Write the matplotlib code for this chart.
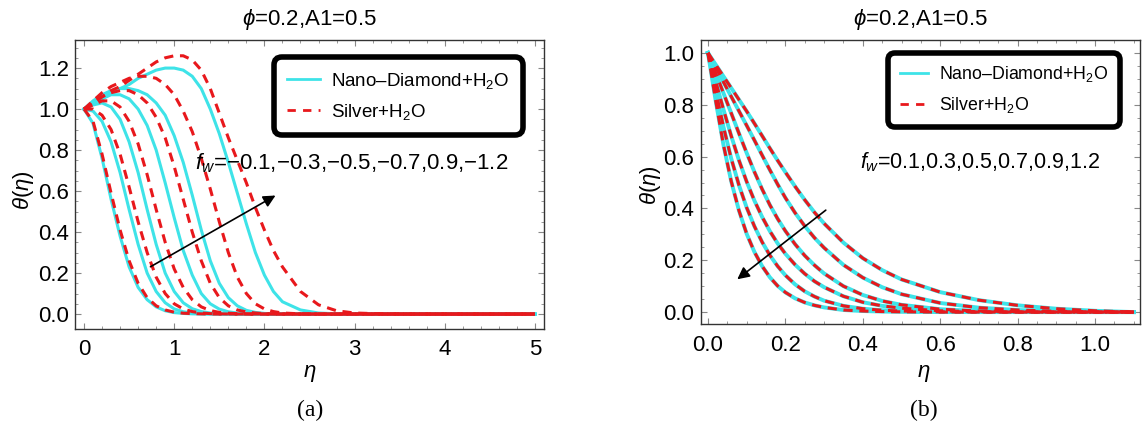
import matplotlib
matplotlib.use('Agg')
from matplotlib import pyplot as plt
from matplotlib.lines import Line2D

plt.rcParams['font.family'] = ['Liberation Sans', 'DejaVu Sans']
plt.rcParams['mathtext.fontset'] = 'custom'
plt.rcParams['mathtext.rm'] = 'Liberation Sans'
plt.rcParams['mathtext.it'] = 'Liberation Sans:italic'
plt.rcParams['mathtext.fallback'] = 'stixsans'

# ---- data ----
title = r'$\phi$=0.2,A1=0.5'
labels = ['Nano\u2013Diamond+H$_2$O', 'Silver+H$_2$O']
note_a = '$f_w$=\u22120.1,\u22120.3,\u22120.5,\u22120.7,0.9,\u22121.2'
note_b = '$f_w$=0.1,0.3,0.5,0.7,0.9,1.2'

# panel (a): fw = -0.1, -0.3, -0.5, -0.7, -0.9, -1.2
eta_a = [0, 0.1, 0.2, 0.3, 0.4, 0.5, 0.6, 0.7, 0.8, 0.9, 1.0, 1.1, 1.2, 1.3, 1.4, 1.5,
         1.6, 1.7, 1.8, 1.9, 2.0, 2.1, 2.2, 2.4, 2.6, 2.8, 3.0, 3.3, 3.6, 4.0, 5.0]
nd_a = [
    [1.0, 0.93, 0.76, 0.56, 0.38, 0.23, 0.13, 0.07, 0.035, 0.016, 0.007, 0.003, 0.001, 0,
     0, 0, 0, 0, 0, 0, 0, 0, 0, 0, 0, 0, 0, 0, 0, 0, 0],
    [1.0, 0.99, 0.94, 0.84, 0.69, 0.51, 0.34, 0.2, 0.11, 0.055, 0.025, 0.011, 0.005, 0.002,
     0.001, 0, 0, 0, 0, 0, 0, 0, 0, 0, 0, 0, 0, 0, 0, 0, 0],
    [1.0, 1.02, 1.03, 1.01, 0.95, 0.84, 0.69, 0.51, 0.34, 0.2, 0.11, 0.055, 0.026, 0.012,
     0.005, 0.002, 0.001, 0, 0, 0, 0, 0, 0, 0, 0, 0, 0, 0, 0, 0, 0],
    [1.0, 1.03, 1.05, 1.07, 1.07, 1.05, 1.0, 0.92, 0.8, 0.64, 0.47, 0.31, 0.19, 0.1, 0.05,
     0.024, 0.011, 0.005, 0.002, 0.001, 0, 0, 0, 0, 0, 0, 0, 0, 0, 0, 0],
    [1.0, 1.04, 1.07, 1.09, 1.1, 1.1, 1.09, 1.07, 1.03, 0.97, 0.87, 0.74, 0.58, 0.41, 0.26,
     0.15, 0.08, 0.04, 0.018, 0.008, 0.003, 0.001, 0, 0, 0, 0, 0, 0, 0, 0, 0],
    [1.0, 1.03, 1.05, 1.08, 1.1, 1.12, 1.15, 1.17, 1.19, 1.2, 1.2, 1.19, 1.16, 1.1, 1.0,
     0.88, 0.74, 0.59, 0.44, 0.3, 0.19, 0.11, 0.06, 0.02, 0.005, 0.001, 0, 0, 0, 0, 0],
]
ag_a = [
    [1.0, 0.94, 0.78, 0.59, 0.41, 0.26, 0.15, 0.08, 0.04, 0.02, 0.009, 0.004, 0.002, 0.001,
     0, 0, 0, 0, 0, 0, 0, 0, 0, 0, 0, 0, 0, 0, 0, 0, 0],
    [1.0, 1.0, 0.97, 0.9, 0.78, 0.62, 0.45, 0.3, 0.18, 0.1, 0.05, 0.025, 0.012, 0.005,
     0.002, 0.001, 0, 0, 0, 0, 0, 0, 0, 0, 0, 0, 0, 0, 0, 0, 0],
    [1.0, 1.02, 1.04, 1.04, 1.01, 0.94, 0.83, 0.68, 0.51, 0.35, 0.22, 0.13, 0.07, 0.035,
     0.017, 0.008, 0.004, 0.002, 0.001, 0, 0, 0, 0, 0, 0, 0, 0, 0, 0, 0, 0],
    [1.0, 1.03, 1.06, 1.08, 1.09, 1.09, 1.07, 1.03, 0.96, 0.86, 0.72, 0.56, 0.4, 0.26, 0.15,
     0.08, 0.04, 0.02, 0.01, 0.005, 0.002, 0.001, 0, 0, 0, 0, 0, 0, 0, 0, 0],
    [1.0, 1.04, 1.08, 1.11, 1.13, 1.15, 1.16, 1.16, 1.15, 1.12, 1.07, 0.99, 0.89, 0.76,
     0.61, 0.45, 0.3, 0.18, 0.1, 0.05, 0.025, 0.012, 0.005, 0.001, 0, 0, 0, 0, 0, 0, 0],
    [1.0, 1.03, 1.06, 1.09, 1.11, 1.14, 1.17, 1.2, 1.23, 1.25, 1.26, 1.26, 1.24, 1.19, 1.1,
     0.98, 0.86, 0.75, 0.64, 0.52, 0.41, 0.31, 0.23, 0.11, 0.045, 0.016, 0.005, 0.001, 0, 0, 0],
]

# panel (b): fw = 1.2, 0.9, 0.7, 0.5, 0.3, 0.1 (both fluids lie on top of each other)
eta_b = [0, 0.02, 0.04, 0.06, 0.08, 0.1, 0.12, 0.14, 0.16, 0.18, 0.2, 0.225, 0.25, 0.275,
         0.3, 0.35, 0.4, 0.45, 0.5, 0.6, 0.7, 0.8, 0.9, 1.0, 1.1]
nd_b = [
    [1.0, 0.815, 0.645, 0.505, 0.392, 0.302, 0.232, 0.177, 0.134, 0.101, 0.076, 0.053,
     0.037, 0.026, 0.018, 0.008, 0.004, 0.002, 0.001, 0, 0, 0, 0, 0, 0],
    [1.0, 0.855, 0.715, 0.593, 0.49, 0.403, 0.331, 0.27, 0.219, 0.177, 0.142, 0.107,
     0.08, 0.06, 0.044, 0.024, 0.013, 0.007, 0.004, 0.001, 0, 0, 0, 0, 0],
    [1.0, 0.89, 0.782, 0.68, 0.586, 0.503, 0.43, 0.367, 0.312, 0.265, 0.225, 0.183,
     0.148, 0.119, 0.096, 0.061, 0.038, 0.024, 0.015, 0.005, 0.0015, 0.0005, 0, 0, 0],
    [1.0, 0.922, 0.845, 0.768, 0.69, 0.614, 0.541, 0.474, 0.413, 0.36, 0.313, 0.262,
     0.218, 0.181, 0.149, 0.1, 0.066, 0.043, 0.028, 0.011, 0.004, 0.0015, 0.0005, 0, 0],
    [1.0, 0.944, 0.888, 0.832, 0.776, 0.72, 0.663, 0.605, 0.548, 0.493, 0.441, 0.383,
     0.332, 0.287, 0.248, 0.182, 0.133, 0.096, 0.069, 0.035, 0.017, 0.008, 0.003, 0.001, 0],
    [1.0, 0.955, 0.91, 0.865, 0.82, 0.775, 0.728, 0.68, 0.632, 0.585, 0.54, 0.485,
     0.433, 0.385, 0.342, 0.268, 0.208, 0.162, 0.126, 0.077, 0.046, 0.026, 0.013, 0.005, 0],
]
ag_b = [row[:] for row in nd_b]

cyan = '#3ee3e8'
red = '#e8181c'

fig = plt.figure(figsize=(11.48, 4.32), dpi=100)
axa = fig.add_axes([75 / 1148, 1 - 329 / 432, 469 / 1148, 289 / 432])
axb = fig.add_axes([701 / 1148, 1 - 324 / 432, 439 / 1148, 284 / 432])


def style(ax, xmaj, xmin, ymaj, ymin, xpad, ypad):
    for s in ax.spines.values():
        s.set_color('#333333')
        s.set_linewidth(1.0)
    ax.set_xticks(xmaj)
    ax.set_xticks(xmin, minor=True)
    ax.set_yticks(ymaj)
    ax.set_yticks(ymin, minor=True)
    ax.tick_params(which='both', direction='in', top=True, right=True, color='#888888',
                   labelsize=16)
    ax.tick_params(which='major', length=4, width=0.8)
    ax.tick_params(which='minor', length=2, width=0.6)
    ax.tick_params(axis='x', pad=xpad)
    ax.tick_params(axis='y', pad=ypad)


def legend(ax, anchor, size, hlen, bpad):
    h = [Line2D([], [], color=cyan, lw=2.0),
         Line2D([], [], color=red, lw=2.0, ls=(0, (3, 2.6)))]
    lg = ax.legend(h, labels, loc='upper right', bbox_to_anchor=anchor, fontsize=size,
                   handlelength=hlen, handletextpad=0.6, borderpad=bpad,
                   labelspacing=0.6, fancybox=True, framealpha=1)
    fr = lg.get_frame()
    fr.set_edgecolor('black')
    fr.set_linewidth(4.0)
    fr.set_boxstyle('round,pad=0.0,rounding_size=0.4')


# panel (a)
for y in nd_a:
    axa.plot(eta_a, y, color=cyan, lw=2.2)
for y in ag_a:
    axa.plot(eta_a, y, color=red, lw=2.2, ls=(0, (3, 2.2)))
axa.set_xlim(-0.1, 5.1)
axa.set_ylim(-0.073, 1.337)
style(axa, [0, 1, 2, 3, 4, 5], [i * 0.2 for i in range(26)],
      [0, 0.2, 0.4, 0.6, 0.8, 1.0, 1.2], [i * 0.05 for i in range(27)], 7, 4)
axa.set_xticklabels(['0', '1', '2', '3', '4', '5'])
axa.set_yticklabels(['0.0', '0.2', '0.4', '0.6', '0.8', '1.0', '1.2'])
axa.set_title(title, fontsize=16, pad=11)
axa.text(1.23, 0.737, note_a, fontsize=16, ha='left', va='center')
axa.annotate('', xy=(2.15, 0.585), xytext=(0.71, 0.224),
             arrowprops=dict(arrowstyle='-|>', color='black', lw=1.2, mutation_scale=18))
legend(axa, (0.975, 0.972), 13.5, 1.75, 0.7)

# panel (b)
for y in nd_b:
    axb.plot(eta_b, y, color=cyan, lw=2.8)
for y in ag_b:
    axb.plot(eta_b, y, color=red, lw=2.2, ls=(0, (3, 2.2)))
axb.set_xlim(-0.018, 1.116)
axb.set_ylim(-0.046, 1.05)
style(axb, [0, 0.2, 0.4, 0.6, 0.8, 1.0], [i * 0.05 for i in range(23)],
      [0, 0.2, 0.4, 0.6, 0.8, 1.0], [i * 0.05 for i in range(21)], 8, 5)
axb.set_xticklabels(['0.0', '0.2', '0.4', '0.6', '0.8', '1.0'])
axb.set_yticklabels(['0.0', '0.2', '0.4', '0.6', '0.8', '1.0'])
axb.set_title(title, fontsize=16, pad=11)
axb.text(0.393, 0.579, note_b, fontsize=15.5, ha='left', va='center')
axb.annotate('', xy=(0.07, 0.12), xytext=(0.31, 0.40),
             arrowprops=dict(arrowstyle='-|>', color='black', lw=1.2, mutation_scale=18))
legend(axb, (0.974, 0.986), 12.8, 1.6, 0.65)

# axis labels and panel tags
fig.text(23 / 1148, 1 - 190 / 432, r'$\theta(\eta)$', fontsize=16, rotation=90,
         ha='center', va='center')
fig.text(651 / 1148, 1 - 185 / 432, r'$\theta(\eta)$', fontsize=16, rotation=90,
         ha='center', va='center')
fig.text(310 / 1148, 1 - 373 / 432, r'$\eta$', fontsize=16, ha='center', va='center')
fig.text(924 / 1148, 1 - 373 / 432, r'$\eta$', fontsize=16, ha='center', va='center')
fig.text(310 / 1148, 1 - 410 / 432, '(a)', fontsize=17, family='Liberation Serif',
         ha='center', va='center')
fig.text(924 / 1148, 1 - 410 / 432, '(b)', fontsize=17, family='Liberation Serif',
         ha='center', va='center')

fig.savefig('out.png', dpi=100)
